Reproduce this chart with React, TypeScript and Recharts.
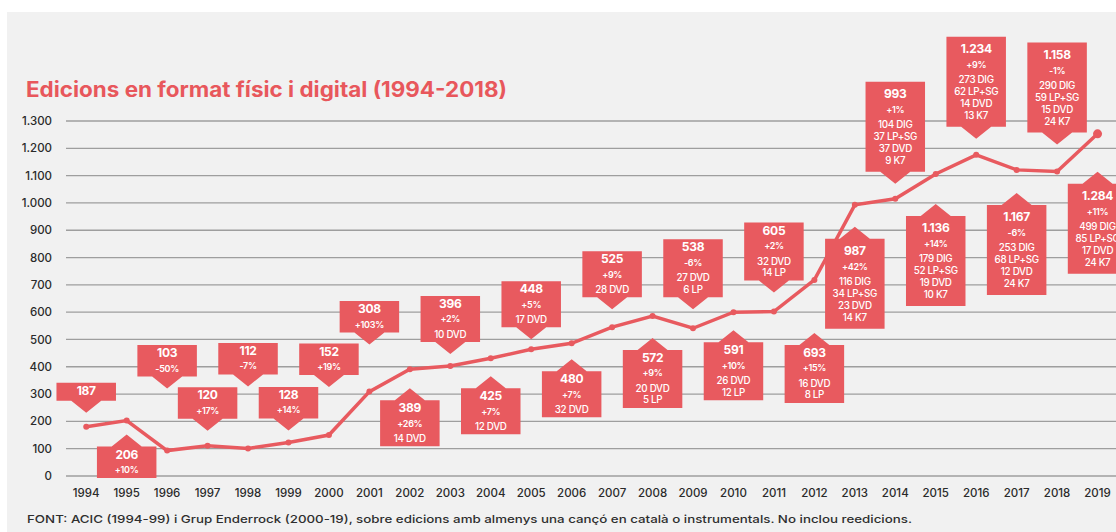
import React from 'react';
import { LineChart, Line, XAxis, YAxis, CartesianGrid, LabelList } from 'recharts';

// ---------- data ----------
const years = [1994, 1995, 1996, 1997, 1998, 1999, 2000, 2001, 2002, 2003, 2004, 2005, 2006,
  2007, 2008, 2009, 2010, 2011, 2012, 2013, 2014, 2015, 2016, 2017, 2018, 2019];

// editions as printed in the callouts
const editions = [187, 206, 103, 120, 112, 128, 152, 308, 389, 396, 425, 448, 480,
  525, 572, 538, 591, 605, 693, 987, 993, 1136, 1234, 1167, 1158, 1284];

// level of the line as it is drawn in the graphic
const lineLevel = [180, 203, 93, 111, 101, 123, 150, 309, 391, 403, 431, 464, 486,
  545, 586, 541, 600, 602, 718, 993, 1015, 1106, 1176, 1121, 1115, 1253];

const changes = ['', '+10%', '-50%', '+17%', '-7%', '+14%', '+19%', '+103%', '+26%', '+2%', '+7%', '+5%', '+7%',
  '+9%', '+9%', '-6%', '+10%', '+2%', '+15%', '+42%', '+1%', '+14%', '+9%', '-6%', '-1%', '+11%'];

const digital = [null, null, null, null, null, null, null, null, null, null, null, null, null,
  null, null, null, null, null, null, 116, 104, 179, 273, 253, 290, 499];
const lpSingles = [null, null, null, null, null, null, null, null, null, null, null, null, null,
  null, null, null, null, null, null, 34, 37, 52, 62, 68, 59, 85];
const dvd = [null, null, null, null, null, null, null, null, 14, 10, 12, 17, 32,
  28, 20, 27, 26, 32, 16, 23, 37, 19, 14, 12, 15, 17];
const lp = [null, null, null, null, null, null, null, null, null, null, null, null, null,
  null, 5, 6, 12, 14, 8, null, null, null, null, null, null, null];
const cassettes = [null, null, null, null, null, null, null, null, null, null, null, null, null,
  null, null, null, null, null, null, 14, 9, 10, 13, 24, 24, 24];

const yTicks = [0, 100, 200, 300, 400, 500, 600, 700, 800, 900, 1000, 1100, 1200, 1300];

const title = 'Edicions en format físic i digital (1994-2018)';
const source = 'FONT: ACIC (1994-99) i Grup Enderrock (2000-19), sobre edicions amb almenys una cançó en català o instrumentals. No inclou reedicions.';

// ---------- layout of the callouts (not data) ----------
const calloutSide = ['up', 'down', 'up', 'up', 'up', 'up', 'up', 'up', 'down', 'up', 'down', 'up', 'down',
  'up', 'down', 'up', 'down', 'up', 'down', 'down', 'up', 'down', 'up', 'down', 'up', 'down'];
const calloutGap = [14, 14, 62, 15, 62, 12, 48, 47, 19, 12, 18, 10, 16,
  18, 22, 19, 18, 19, 53, 22, 15, 30, 16, 23, 27, 38];

const RED = '#e85a5f';
const FONT = 'Inter, "Open Sans", sans-serif';

const chartData = years.map((year, i) => ({ year, level: lineLevel[i] }));

function fmt(n: number): string {
  if (n >= 1000) return `${Math.floor(n / 1000)}.${String(n % 1000).padStart(3, '0')}`;
  return String(n);
}

type Row = { text: string; kind: 'value' | 'change' | 'item' };

function rowsFor(i: number): Row[] {
  const rows: Row[] = [{ text: fmt(editions[i]), kind: 'value' }];
  if (changes[i]) rows.push({ text: changes[i], kind: 'change' });
  if (digital[i] != null) rows.push({ text: `${digital[i]} DIG`, kind: 'item' });
  if (lpSingles[i] != null) rows.push({ text: `${lpSingles[i]} LP+SG`, kind: 'item' });
  if (dvd[i] != null) rows.push({ text: `${dvd[i]} DVD`, kind: 'item' });
  if (lp[i] != null) rows.push({ text: `${lp[i]} LP`, kind: 'item' });
  if (cassettes[i] != null) rows.push({ text: `${cassettes[i]} K7`, kind: 'item' });
  return rows;
}

const BOX_W = 59.5;
const ARROW_H = 12;
const ARROW_HALF = 15;

function Callout(props: any) {
  const { x, y, value } = props;
  const i = years.indexOf(value);
  if (i < 0 || x == null || y == null) return null;
  const rows = rowsFor(i);
  const n = rows.length;
  const big = n >= 5;
  const height = big ? 90 : n === 1 ? 18 : n === 2 ? 31.5 : n === 3 ? 46 : 58;
  const side = calloutSide[i];
  const gap = calloutGap[i];
  const cx = x;
  const left = cx - BOX_W / 2;
  const right = cx + BOX_W / 2;
  let top: number;
  let d: string;
  if (side === 'up') {
    const tip = y - gap;
    const bottom = tip - ARROW_H;
    top = bottom - height;
    d = `M${left},${top} H${right} V${bottom} H${cx + ARROW_HALF} L${cx},${tip} L${cx - ARROW_HALF},${bottom} H${left} Z`;
  } else {
    const tip = y + gap;
    top = tip + ARROW_H;
    const bottom = top + height;
    d = `M${left},${top} H${cx - ARROW_HALF} L${cx},${tip} L${cx + ARROW_HALF},${top} H${right} V${bottom} H${left} Z`;
  }
  const p = big ? 12 : 7.5;
  const step = big ? 12 : 11.5;
  let itemIdx = 0;
  return (
    <g>
      <path d={d} fill={RED} />
      {rows.map((r, k) => {
        let ty: number;
        let size: number;
        let weight: number;
        if (r.kind === 'value') {
          ty = top + p; size = 12; weight = 700;
        } else if (r.kind === 'change') {
          ty = top + p + 15.5; size = 9; weight = 600;
        } else {
          ty = top + p + 31 + itemIdx * step; size = 9.8; weight = 500; itemIdx++;
        }
        return (
          <text key={k} x={cx} y={ty} textAnchor="middle" dominantBaseline="central"
            fill="#ffffff" fontSize={size} fontWeight={weight} fontFamily={FONT} letterSpacing={-0.3}>
            {r.text}
          </text>
        );
      })}
    </g>
  );
}

function Dot(props: any) {
  const { cx, cy, index } = props;
  if (cx == null || cy == null) return null;
  const r = index === years.length - 1 ? 4.5 : 3;
  return <circle cx={cx} cy={cy} r={r} fill={RED} stroke="none" />;
}

export default function App() {
  return (
    <div style={{ position: 'absolute', left: 0, top: 0, width: 1116, height: 532, background: '#ffffff', overflow: 'hidden' }}>
      <div style={{ position: 'absolute', left: 7, top: 12, right: 0, bottom: 0, background: '#f1f1f1' }} />
      <div style={{ position: 'absolute', left: 0, top: 0, width: 1116, height: 532 }}>
        <LineChart width={1116} height={532} data={chartData}
          margin={{ top: 121, right: -22, bottom: 26, left: 0 }}>
          <CartesianGrid vertical={false} horizontal stroke="#9e9e9e" strokeWidth={1.3} />
          <XAxis dataKey="year" type="number" domain={[1993.5, 2019.5]} allowDataOverflow ticks={years} interval={0}
            allowDecimals={false} axisLine={false} tickLine={false} tickSize={0} tickMargin={12.5} height={30}
            tick={{ fontSize: 11.5, fill: '#2a2a2a', fontFamily: FONT, fontWeight: 500 }} />
          <YAxis type="number" domain={[0, 1300]} allowDataOverflow ticks={yTicks} interval={0} width={66}
            axisLine={false} tickLine={false} tickSize={0} tickMargin={14} tickFormatter={(v: number) => fmt(v)}
            tick={{ fontSize: 11.5, fill: '#2a2a2a', fontFamily: FONT, fontWeight: 500 }} />
          <Line type="linear" dataKey="level" stroke={RED} strokeWidth={3.5} dot={<Dot />} activeDot={false}
            isAnimationActive={false}>
            <LabelList dataKey="year" content={<Callout />} />
          </Line>
        </LineChart>
      </div>
      <svg width={1116} height={532} style={{ position: 'absolute', left: 0, top: 0, pointerEvents: 'none' }}>
        <text x={26} y={96.5} fill="#e8575c" fontSize={21} fontWeight={700} fontFamily={FONT}
          textLength={481} lengthAdjust="spacingAndGlyphs">{title}</text>
        <text x={27} y={523} fill="#2e2e2e" fontSize={11} fontWeight={500} fontFamily={FONT}
          textLength={885} lengthAdjust="spacingAndGlyphs">{source}</text>
      </svg>
    </div>
  );
}
